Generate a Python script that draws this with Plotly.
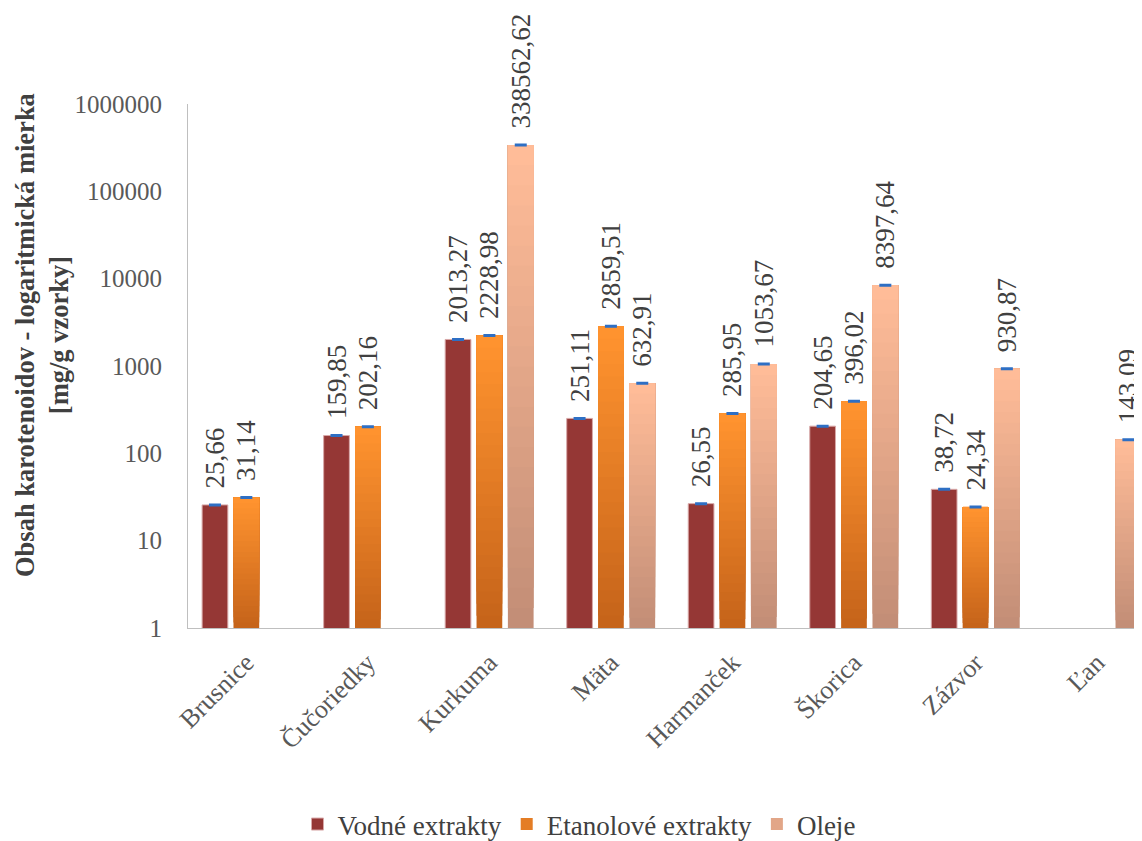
import plotly.graph_objects as go
import numpy as np

categories = ["Brusnice", "Čučoriedky", "Kurkuma", "Mäta", "Harmanček", "Škorica", "Zázvor", "Ľan"]
vodne = [25.66, 159.85, 2013.27, 251.11, 26.55, 204.65, 38.72, None]
etanol = [31.14, 202.16, 2228.98, 2859.51, 285.95, 396.02, 24.34, None]
oleje = [None, None, 338562.62, 632.91, 1053.67, 8397.64, 930.87, 143.09]
series_names = ["Vodné extrakty", "Etanolové extrakty", "Oleje"]
y_tick_vals = [1, 10, 100, 1000, 10000, 100000, 1000000]
y_title = "Obsah karotenoidov - logaritmická mierka<br>[mg/g vzorky]"

FONT = "Liberation Serif, Times New Roman, serif"
PAD = "\u00a0\u00a0"

def fmt(v):
    return "" if v is None else PAD + f"{v:.2f}".replace(".", ",")

def lerp(c1, c2, t):
    return "#%02x%02x%02x" % tuple(int(round(a + (b - a) * t)) for a, b in zip(c1, c2))

fig = go.Figure()

# Vodne - solid
fig.add_trace(go.Bar(
    x=categories, y=vodne, name=series_names[0], offsetgroup="a",
    marker=dict(color="#953735", line=dict(color="#d8a8a8", width=1)),
    legendrank=1,
))

N = 24
grad_specs = [
    (etanol, series_names[1], "b", (0xFF, 0x93, 0x2F), (0xC6, 0x64, 0x1A), 2),
    (oleje, series_names[2], "c", (0xFF, 0xBC, 0x98), (0xC3, 0x8E, 0x77), 3),
]
for vals, nm, grp, top, bot, rank in grad_specs:
    for k in range(N):
        t = k / (N - 1)
        col = lerp(bot, top, t)
        bases, lens = [], []
        for v in vals:
            if v is None:
                bases.append(None); lens.append(None)
            else:
                b = 10 ** (np.log10(v) * k / N)
                bases.append(b); lens.append(v - b)
        fig.add_trace(go.Bar(
            x=categories, y=lens, base=bases, offsetgroup=grp,
            marker=dict(color=col, line=dict(width=0)),
            name=nm, legendgroup=nm, showlegend=(k == N // 2), legendrank=rank,
        ))

# labels + error caps
for vals, grp in [(vodne, "a"), (etanol, "b"), (oleje, "c")]:
    fig.add_trace(go.Bar(
        x=categories, y=vals, offsetgroup=grp, showlegend=False,
        marker=dict(color="rgba(0,0,0,0)", line=dict(width=0)),
        text=[fmt(v) for v in vals], textposition="outside", textangle=-90,
        constraintext="none", cliponaxis=False,
        textfont=dict(family=FONT, size=27, color="#404040"),
        error_y=dict(type="data", array=[0 if v is not None else None for v in vals],
                     width=6, thickness=3, color="#2E6FC4"),
    ))

fig.add_annotation(
    text="<b>" + y_title + "</b>", textangle=-90,
    xref="paper", yref="paper", x=(42 - 188) / 954, y=(628 - 335) / 524,
    xanchor="center", yanchor="middle", showarrow=False,
    font=dict(family=FONT, size=26.5, color="#404040"),
)

fig.update_layout(
    width=1142, height=841,
    paper_bgcolor="white", plot_bgcolor="white",
    barmode="group", bargap=0.226, bargroupgap=0.18,
    margin=dict(l=180, r=8, t=96, b=221, autoexpand=False),
    font=dict(family=FONT, size=25, color="#595959"),
    showlegend=True,
    legend=dict(orientation="h", xref="container", yref="container",
                x=0.5, xanchor="center", y=0.0, yanchor="bottom",
                font=dict(family=FONT, size=27, color="#404040"),
                traceorder="normal", itemwidth=30),
    xaxis=dict(range=[-0.48, 7.37], tickangle=-45, showline=True, linecolor="#bfbfbf",
               linewidth=1, showgrid=False, ticks="", automargin=False, ticklabelstandoff=8,
               tickfont=dict(family=FONT, size=26, color="#595959")),
    yaxis=dict(type="log", range=[0, 6], tickvals=y_tick_vals,
               ticktext=[str(v) for v in y_tick_vals], showline=True, linecolor="#bfbfbf",
               linewidth=1, showgrid=False, ticks="", ticklabelstandoff=20, automargin=False,
               tickfont=dict(family=FONT, size=25, color="#595959")),
)

fig.write_html("out.html")
